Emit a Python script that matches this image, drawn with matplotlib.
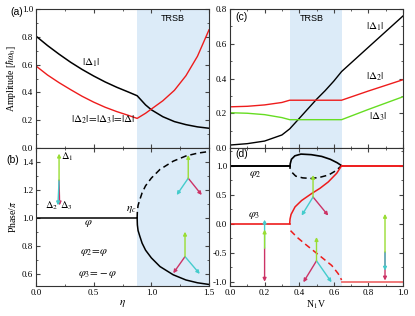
import matplotlib
matplotlib.use('Agg')
import matplotlib.pyplot as plt
from matplotlib.ticker import MultipleLocator, FormatStrFormatter

plt.rcParams['font.family'] = ['Liberation Serif', 'DejaVu Serif']
plt.rcParams['mathtext.fontset'] = 'stix'
plt.rcParams['axes.unicode_minus'] = False
plt.rcParams['font.size'] = 6.5

# ---- data ----
eta_c = 0.877
trsb_c = (0.345, 0.645)

# (a) amplitudes vs eta
eta_a = [0.0, 0.1, 0.2, 0.3, 0.4, 0.5, 0.6, 0.7, 0.8, 0.877,
         0.95, 1.0, 1.1, 1.2, 1.3, 1.4, 1.5]
d1_a = [0.805, 0.737, 0.675, 0.617, 0.565, 0.518, 0.475, 0.437, 0.403, 0.376,
        0.31, 0.275, 0.225, 0.19, 0.168, 0.152, 0.142]
d2_a = [0.59, 0.525, 0.47, 0.42, 0.372, 0.33, 0.293, 0.262, 0.235, 0.213,
        0.25, 0.28, 0.34, 0.415, 0.52, 0.66, 0.85]

# (b) phase vs eta
eta_b = [0.877, 0.879, 0.885, 0.9, 0.92, 0.95, 1.0, 1.075, 1.19, 1.3, 1.4, 1.5]
phi_lo = [1.0, 0.95, 0.91, 0.87, 0.82, 0.77, 0.715, 0.653, 0.594, 0.557, 0.537, 0.525]
phi_hi = [1.0, 1.05, 1.09, 1.13, 1.18, 1.23, 1.285, 1.347, 1.406, 1.443, 1.463, 1.475]

# (c) amplitudes vs N1V
nv_c = [0.0, 0.1, 0.2, 0.3, 0.345, 0.4, 0.45, 0.5, 0.55, 0.6, 0.645, 0.8, 1.0]
d1_c = [0.017, 0.025, 0.04, 0.075, 0.11, 0.17, 0.225, 0.28, 0.33, 0.385, 0.44, 0.58, 0.76]
d2_c = [0.237, 0.24, 0.248, 0.262, 0.275, 0.275, 0.275, 0.275, 0.275, 0.275, 0.275, 0.328, 0.393]
d3_c = [0.203, 0.2, 0.192, 0.175, 0.163, 0.163, 0.163, 0.163, 0.163, 0.163, 0.163, 0.222, 0.295]

# (d) phases vs N1V
nv_loop_up = [0.347, 0.348, 0.355, 0.375, 0.41, 0.47, 0.53, 0.58, 0.62, 0.645]
phi2_up = [0.96, 1.03, 1.11, 1.17, 1.2, 1.19, 1.16, 1.11, 1.05, 1.0]
nv_loop_dn = [0.36, 0.38, 0.42, 0.47, 0.52, 0.57, 0.61, 0.645]
phi2_dn = [0.88, 0.82, 0.79, 0.78, 0.8, 0.84, 0.91, 1.0]
nv_p3 = [0.345, 0.347, 0.353, 0.376, 0.414, 0.472, 0.52, 0.568, 0.617, 0.645]
phi3_up = [0.0, 0.08, 0.16, 0.29, 0.40, 0.52, 0.61, 0.72, 0.87, 1.0]
nv_p3d = [0.35, 0.39, 0.434, 0.48, 0.53, 0.588, 0.625, 0.645]
phi3_dn = [-0.12, -0.24, -0.35, -0.46, -0.58, -0.72, -0.86, -0.97]

# vector sketches: (origin, [red tip, cyan tip, green tip]) - drawn in this order
vec_b = [((0.2, 1.27), [(0.205, 1.09), (0.19, 1.09), (0.2, 1.46)]),
         ((1.32, 1.284), [(1.437, 1.164), (1.22, 1.164), (1.32, 1.45)]),
         ((1.292, 0.724), [(1.19, 0.605), (1.42, 0.6), (1.292, 0.902)])]
vec_d = [((0.48, 0.46), [(0.568, 0.14), (0.414, 0.14), (0.48, 0.84)]),
         ((0.2, -0.42), [(0.2, -1.0), (0.2, 0.07), (0.2, -0.1)]),
         ((0.5, -0.64), [(0.424, -1.01), (0.587, -1.01), (0.5, -0.23)]),
         ((0.896, -0.49), [(0.896, -0.98), (0.896, -0.81), (0.896, 0.17)])]

shade = '#dcebf8'
green = '#99dd33'
cyan = '#44cccc'
crim = '#cc3366'
red = '#ee1c1c'
vcols = [crim, cyan, green]

W, H = 415, 316
fig = plt.figure(figsize=(W / 100, H / 100), dpi=100)
ax_a = fig.add_axes([36 / W, 1 - 148 / H, 173 / W, 139 / H])
ax_b = fig.add_axes([36 / W, 1 - 286 / H, 173 / W, 138 / H])
ax_c = fig.add_axes([230 / W, 1 - 148 / H, 173 / W, 139 / H])
ax_d = fig.add_axes([230 / W, 1 - 286 / H, 173 / W, 138 / H])


def style(ax):
    ax.tick_params(which='both', direction='in', top=True, right=True,
                   labelsize=6.5, color='#444444', pad=2)
    ax.tick_params(which='major', length=3)
    ax.tick_params(which='minor', length=1.5)
    for s in ax.spines.values():
        s.set_color('#333333')
        s.set_linewidth(0.8)


def arrows(ax, vecs):
    for org, tips in vecs:
        for tip, c in zip(tips, vcols):
            ax.annotate('', xy=tip, xytext=org,
                        arrowprops=dict(arrowstyle='-|>', color=c, lw=1.0,
                                        mutation_scale=5, shrinkA=0, shrinkB=0))


sans = ['Liberation Sans', 'DejaVu Sans']

# (a)
ax_a.axvspan(eta_c, 1.5, color=shade, lw=0)
ax_a.plot(eta_a, d1_a, color='black', lw=1.1)
ax_a.plot(eta_a, d2_a, color=red, lw=1.0)
ax_a.set_xlim(0, 1.5)
ax_a.set_ylim(0, 1.0)
ax_a.xaxis.set_major_locator(MultipleLocator(0.5))
ax_a.xaxis.set_minor_locator(MultipleLocator(0.25))
ax_a.yaxis.set_major_locator(MultipleLocator(0.2))
ax_a.yaxis.set_minor_locator(MultipleLocator(0.1))
ax_a.yaxis.set_major_formatter(FormatStrFormatter('%.1f'))
ax_a.set_xticklabels([])
ax_a.set_ylabel(r'Amplitude [$\hbar\omega_0$]', fontsize=7, labelpad=3)
ax_a.text(0.48, 0.61, r'$|\Delta_1|$', fontsize=8, ha='center', va='center')
ax_a.text(0.58, 0.2, r'$|\Delta_2|\!=\!|\Delta_3|\!=\!|\Delta|$', fontsize=8,
          ha='center', va='center')
ax_a.text(1.19, 0.93, 'TRSB', fontsize=6.5, family=sans, ha='center', va='center')
style(ax_a)

# (b)
ax_b.axvspan(eta_c, 1.5, color=shade, lw=0)
ax_b.plot([0, eta_c], [1.0, 1.0], color='black', lw=1.1)
ax_b.plot(eta_b, phi_lo, color='black', lw=1.1)
ax_b.plot(eta_b, phi_hi, color='black', lw=1.1, dashes=(4, 2.5))
ax_b.set_xlim(0, 1.5)
ax_b.set_ylim(0.514, 1.5)
ax_b.xaxis.set_major_locator(MultipleLocator(0.5))
ax_b.xaxis.set_minor_locator(MultipleLocator(0.25))
ax_b.yaxis.set_major_locator(MultipleLocator(0.2))
ax_b.yaxis.set_minor_locator(MultipleLocator(0.1))
ax_b.yaxis.set_major_formatter(FormatStrFormatter('%.1f'))
ax_b.xaxis.set_major_formatter(FormatStrFormatter('%.1f'))
ax_b.set_xlabel(r'$\eta$', fontsize=8, labelpad=1)
ax_b.set_ylabel(r'Phase/$\pi$', fontsize=7, labelpad=3)
arrows(ax_b, vec_b)
ax_b.text(0.22, 1.44, r'$\Delta_1$', fontsize=7.5, va='center')
ax_b.text(0.19, 1.09, r'$\Delta_2$', fontsize=7.5, ha='right', va='center')
ax_b.text(0.21, 1.09, r'$\Delta_3$', fontsize=7.5, ha='left', va='center')
ax_b.text(0.45, 0.96, r'$\varphi$', fontsize=8, ha='center', va='center')
ax_b.text(0.83, 1.06, r'$\eta_c$', fontsize=8, ha='center', va='center')
ax_b.text(0.5, 0.75, r'$\varphi_2\!=\!\varphi$', fontsize=8, ha='center', va='center')
ax_b.text(0.53, 0.593, r'$\varphi_3\!=\!-\varphi$', fontsize=8, ha='center', va='center')
style(ax_b)

# (c)
ax_c.axvspan(*trsb_c, color=shade, lw=0)
ax_c.plot(nv_c, d1_c, color='black', lw=1.0)
ax_c.plot(nv_c, d2_c, color=red, lw=1.0)
ax_c.plot(nv_c, d3_c, color='#66dd22', lw=1.0)
ax_c.set_xlim(0, 1)
ax_c.set_ylim(0, 0.8)
ax_c.xaxis.set_major_locator(MultipleLocator(0.2))
ax_c.xaxis.set_minor_locator(MultipleLocator(0.1))
ax_c.yaxis.set_major_locator(MultipleLocator(0.2))
ax_c.yaxis.set_minor_locator(MultipleLocator(0.1))
ax_c.yaxis.set_major_formatter(FormatStrFormatter('%.1f'))
ax_c.set_xticklabels([])
ax_c.text(0.838, 0.70, r'$|\Delta_1|$', fontsize=8, ha='center', va='center')
ax_c.text(0.838, 0.41, r'$|\Delta_2|$', fontsize=8, ha='center', va='center')
ax_c.text(0.855, 0.18, r'$|\Delta_3|$', fontsize=8, ha='center', va='center')
ax_c.text(0.47, 0.745, 'TRSB', fontsize=6.5, family=sans, ha='center', va='center')
ax_c.text(0.03, 0.755, '(c)', fontsize=7.5, family=sans, ha='left', va='center')
style(ax_c)

# (d)
ax_d.axvspan(*trsb_c, color=shade, lw=0)
ax_d.plot([0, trsb_c[0]], [1.0, 1.0], color='black', lw=1.4)
ax_d.plot(nv_loop_up, phi2_up, color='black', lw=1.2)
ax_d.plot(nv_loop_dn, phi2_dn, color='black', lw=1.1, dashes=(4, 2.5))
ax_d.plot([0, trsb_c[0]], [0.0, 0.0], color=red, lw=1.2)
ax_d.plot(nv_p3, phi3_up, color=red, lw=1.1)
ax_d.plot(nv_p3d, phi3_dn, color=red, lw=1.1, dashes=(4, 2.5))
ax_d.plot([trsb_c[1], 1.0], [1.0, 1.0], color=red, lw=1.4)
ax_d.plot([trsb_c[1], 1.0], [-1.0, -1.0], color='#f07a7a', lw=1.4)
ax_d.set_xlim(0, 1)
ax_d.set_ylim(-1.074, 1.305)
ax_d.xaxis.set_major_locator(MultipleLocator(0.2))
ax_d.xaxis.set_minor_locator(MultipleLocator(0.1))
ax_d.yaxis.set_major_locator(MultipleLocator(0.5))
ax_d.yaxis.set_minor_locator(MultipleLocator(0.25))
ax_d.yaxis.set_major_formatter(FormatStrFormatter('%.1f'))
ax_d.xaxis.set_major_formatter(FormatStrFormatter('%.1f'))
ax_d.set_xlabel(r'N$_1$V', fontsize=7, labelpad=1)
arrows(ax_d, vec_d)
ax_d.text(0.145, 0.85, r'$\varphi_2$', fontsize=8, ha='center', va='center')
ax_d.text(0.14, 0.143, r'$\varphi_3$', fontsize=8, ha='center', va='center')
ax_d.text(0.03, 1.2, '(d)', fontsize=7.5, family=sans, ha='left', va='center')
style(ax_d)

fig.text(17 / W, 1 - 12 / H, '(a)', fontsize=7.5, family=sans, ha='center', va='center')
fig.text(13 / W, 1 - 160 / H, '(b)', fontsize=7.5, family=sans, ha='center', va='center')

fig.savefig('out.png', dpi=100)
